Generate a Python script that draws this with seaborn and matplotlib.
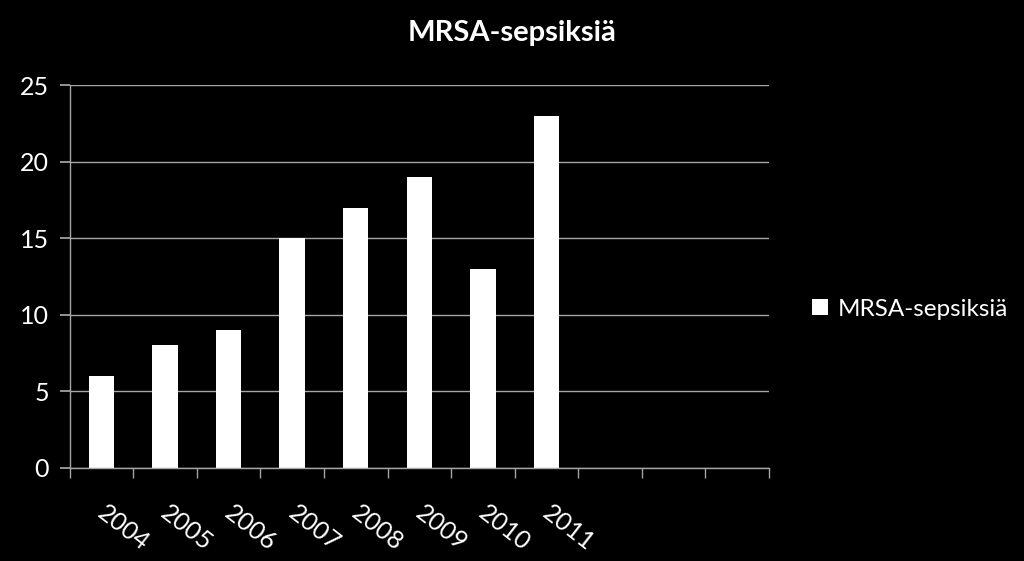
import matplotlib
matplotlib.use("Agg")
import matplotlib.pyplot as plt
import matplotlib.transforms as mtransforms
import seaborn as sns
import pandas as pd
import numpy as np
from matplotlib.ticker import FixedLocator

# data
years = ["2004", "2005", "2006", "2007", "2008", "2009", "2010", "2011"]
cases = [6, 8, 9, 15, 17, 19, 13, 23]
empty_slots = ["", " ", "  "]
series_name = "MRSA-sepsiksiä"

df = pd.DataFrame({"year": years, "cases": cases})
order = years + empty_slots

sns.set_theme(style="dark")
plt.rcParams["font.family"] = ["Lato", "DejaVu Sans"]

fig = plt.figure(figsize=(10.24, 5.61), dpi=100, facecolor="black")
ax = fig.add_axes([0.068, 0.166, 0.683, 0.682])
ax.set_facecolor("black")

sns.barplot(data=df, x="year", y="cases", order=order, color="white",
            saturation=1, width=0.4, edgecolor="white", linewidth=0,
            label=series_name, ax=ax)

grid_col = "#a6a6a6"
ax.set_ylim(0, 25)
ax.set_yticks(np.arange(0, 26, 5))
ax.yaxis.grid(True, color=grid_col, linewidth=1)
ax.xaxis.grid(False)
ax.set_axisbelow(True)
ax.set_xlim(-0.5, len(order) - 0.5)

for side in ["top", "right"]:
    ax.spines[side].set_visible(False)
for side in ["left", "bottom"]:
    ax.spines[side].set_color(grid_col)
    ax.spines[side].set_linewidth(1)

# ticks sit on the category boundaries
ax.xaxis.set_minor_locator(FixedLocator(np.arange(-0.5, len(order), 1.0)))
ax.tick_params(axis="x", which="minor", length=7, color=grid_col, direction="out", bottom=True)
ax.tick_params(axis="x", which="major", length=0, pad=24, labelsize=18, labelcolor="white")
ax.tick_params(axis="y", length=7, color=grid_col, direction="out", left=True,
               labelsize=18, labelcolor="white", pad=8)
ax.set_xticks(range(len(order)))
ax.set_xticklabels(order, rotation=-38, ha="left", rotation_mode="anchor")
shift = mtransforms.ScaledTranslation(6 / 100, 0, fig.dpi_scale_trans)
for lbl in ax.get_xticklabels():
    lbl.set_transform(lbl.get_transform() + shift)
ax.set_xlabel("")
ax.set_ylabel("")

fig.suptitle(series_name, x=0.5, y=0.965, color="white", fontsize=21, fontweight="bold")

leg = ax.legend(loc="center left", bbox_to_anchor=(1.03, 0.415), frameon=False,
                fontsize=17.5, handlelength=0.65, handleheight=0.65, handletextpad=0.4)
for t in leg.get_texts():
    t.set_color("white")

fig.savefig("out.png", dpi=100, facecolor="black")
